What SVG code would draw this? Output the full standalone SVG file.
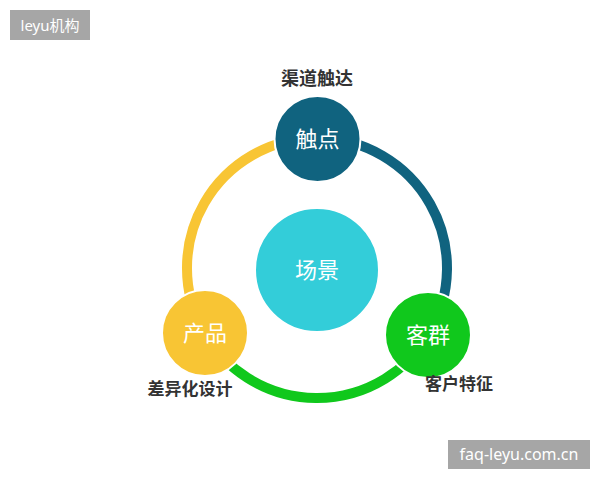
<svg xmlns="http://www.w3.org/2000/svg" width="600" height="480" viewBox="0 0 600 480">
<style>
.lbl{font-family:"Noto Sans CJK SC","Noto Sans",sans-serif;font-size:22px;fill:#ffffff;text-anchor:middle}
.ttl{font-family:"Noto Sans CJK SC","Noto Sans",sans-serif;font-size:17px;font-weight:bold;fill:#333333;text-anchor:middle}
.wm{font-family:"Noto Sans","Noto Sans CJK SC",sans-serif;font-size:15px;fill:#ffffff;text-anchor:middle}
.arc{fill:none;stroke-width:10}
.node{stroke:#ffffff;stroke-width:2}
</style>
<rect width="600" height="480" fill="#ffffff"/>
<g id="watermark-top">
<rect x="10" y="10" width="80" height="30" fill="#a6a6a6"/>
<text class="wm" x="50" y="30.5">leyu机构</text>
</g>
<g id="connectors">
<path class="arc" stroke="#f8c534" d="M204.4,333 A130,130 0 0 1 317,138"/>
<path class="arc" stroke="#10637f" d="M317,138 A130,130 0 0 1 428.4,335"/>
<path class="arc" stroke="#10c81c" d="M428.4,335 A130,130 0 0 1 204.4,333"/>
</g>
<g id="center">
<circle class="node" cx="317" cy="270" r="62" fill="#33cdd9"/>
<text class="lbl" x="317" y="278">场景</text>
</g>
<g id="touch">
<circle class="node" cx="317.5" cy="139" r="43" fill="#10637f"/>
<text class="lbl" x="317.5" y="147">触点</text>
<text class="ttl" x="317" y="85" style="font-size:18px">渠道触达</text>
</g>
<g id="product">
<circle class="node" cx="205" cy="333" r="43" fill="#f8c534"/>
<text class="lbl" x="205" y="341">产品</text>
<text class="ttl" x="190" y="395">差异化设计</text>
</g>
<g id="customer">
<circle class="node" cx="428" cy="335" r="43" fill="#10c81c"/>
<text class="lbl" x="428" y="343">客群</text>
<text class="ttl" x="459" y="390">客户特征</text>
</g>
<g id="watermark-bottom">
<rect x="448" y="440" width="142" height="29" fill="#a6a6a6"/>
<text class="wm" x="519" y="460" style="font-size:16px">faq-leyu.com.cn</text>
</g>
</svg>
